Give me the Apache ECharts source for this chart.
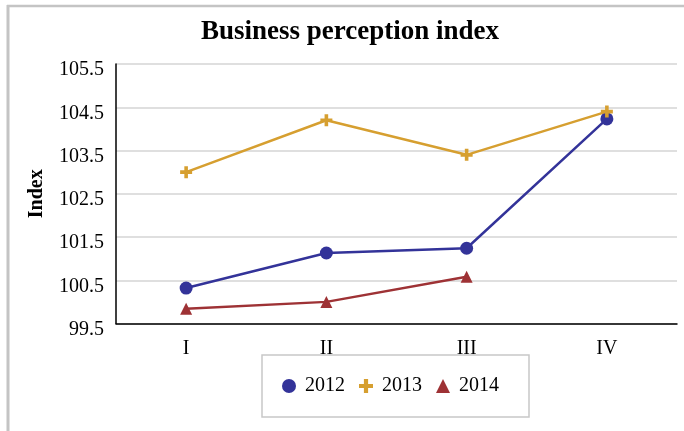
<!DOCTYPE html>
<html>
<head>
<meta charset="utf-8">
<style>
  html, body { margin: 0; padding: 0; background: #ffffff; }
  #chart { width: 684px; height: 431px; }
</style>
<script src="https://cdn.jsdelivr.net/npm/echarts@6/dist/echarts.min.js"></script>
</head>
<body>
<div id="chart"></div>
<script>
// Quarterly business perception index
const quarters = ['I', 'II', 'III', 'IV'];
const index2012 = [100.32, 101.13, 101.24, 104.23];
const index2013 = [103.0, 104.2, 103.4, 104.4];
const index2014 = [99.84, 100.0, 100.58];
const yTicks = { min: 99.5, max: 105.5, step: 1 };

const serif = '"Liberation Serif", "DejaVu Serif", serif';
const plusPath = 'path://M3.5,0H6.5V3.5H10V6.5H6.5V10H3.5V6.5H0V3.5H3.5Z';

const chart = echarts.init(document.getElementById('chart'));

chart.setOption({
  animation: false,
  backgroundColor: '#ffffff',
  title: {
    text: 'Business perception index',
    left: 345,
    textAlign: 'center',
    top: 14,
    textStyle: { fontFamily: serif, fontSize: 27, fontWeight: 'bold', color: '#000' }
  },
  grid: { left: 116, right: 7, top: 64, bottom: 107.5, containLabel: false },
  legend: {
    left: 262,
    top: 355,
    padding: [21, 30, 21, 20],
    borderColor: '#c8c8c8',
    borderWidth: 1.5,
    itemGap: 14,
    itemWidth: 14,
    itemHeight: 14,
    textStyle: { fontFamily: serif, fontSize: 20, color: '#000', padding: [0, 0, 0, 4] },
    data: [
      { name: '2012', icon: 'circle' },
      { name: '2013', icon: plusPath },
      { name: '2014', icon: 'triangle' }
    ]
  },
  xAxis: {
    type: 'category',
    data: quarters,
    boundaryGap: true,
    axisLine: { lineStyle: { color: '#000', width: 1.5 } },
    axisTick: { show: false },
    axisLabel: { fontFamily: serif, fontSize: 20, color: '#000', margin: 15 }
  },
  yAxis: {
    type: 'value',
    min: yTicks.min,
    max: yTicks.max,
    interval: yTicks.step,
    name: 'Index',
    nameLocation: 'middle',
    nameRotate: 90,
    nameGap: 69,
    nameTextStyle: { fontFamily: serif, fontSize: 20, fontWeight: 'bold', color: '#000' },
    axisLine: { show: true, lineStyle: { color: '#000', width: 1.5 } },
    axisTick: { show: false },
    axisLabel: {
      fontFamily: serif, fontSize: 20, color: '#000', margin: 12,
      verticalAlign: 'top', lineHeight: 12,
      formatter: v => v.toFixed(1)
    },
    splitLine: { lineStyle: { color: '#d4d4d4', width: 1.5 } }
  },
  series: [
    {
      name: '2012', type: 'line', data: index2012,
      symbol: 'circle', symbolSize: 13,
      itemStyle: { color: '#333399' },
      lineStyle: { color: '#333399', width: 2.5 }
    },
    {
      name: '2013', type: 'line', data: index2013,
      symbol: plusPath, symbolSize: 12,
      itemStyle: { color: '#d69f30' },
      lineStyle: { color: '#d69f30', width: 2.5 }
    },
    {
      name: '2014', type: 'line', data: index2014,
      symbol: 'triangle', symbolSize: 12,
      itemStyle: { color: '#9e3235' },
      lineStyle: { color: '#9e3235', width: 2.5 }
    }
  ],
  graphic: [
    { type: 'line', shape: { x1: 7, y1: 6, x2: 684, y2: 6 }, style: { stroke: '#c4c4c4', lineWidth: 2.5 } },
    { type: 'line', shape: { x1: 8, y1: 5, x2: 8, y2: 431 }, style: { stroke: '#c4c4c4', lineWidth: 3 } }
  ]
});
</script>
</body>
</html>
